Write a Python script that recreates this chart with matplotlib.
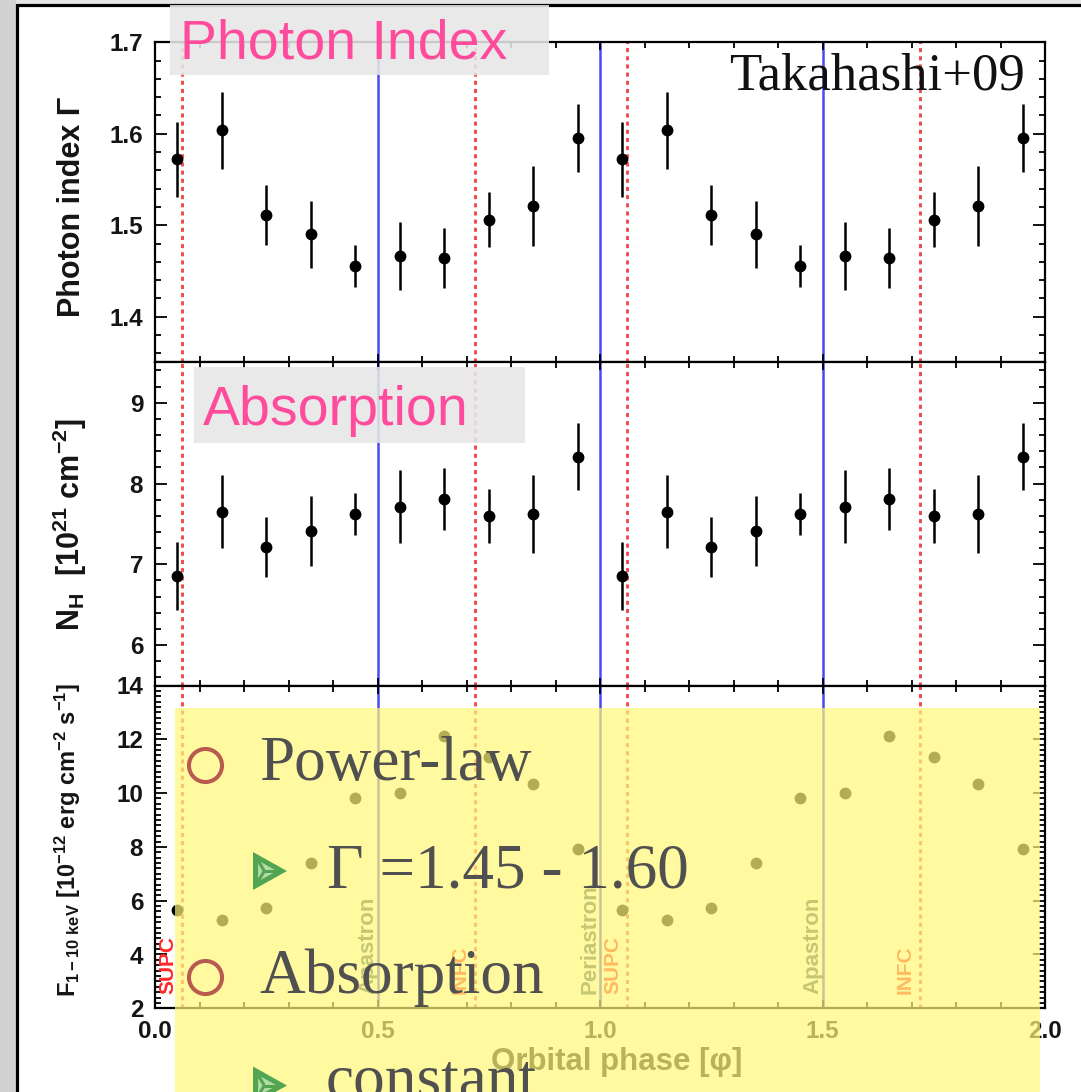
import matplotlib
matplotlib.use("Agg")
import matplotlib.pyplot as plt
from matplotlib.patches import Rectangle, Polygon
from matplotlib.ticker import MultipleLocator, FormatStrFormatter
from matplotlib.transforms import offset_copy

plt.rcParams["mathtext.fontset"] = "custom"
plt.rcParams["mathtext.rm"] = "Liberation Sans:bold"
plt.rcParams["mathtext.bf"] = "Liberation Sans:bold"
plt.rcParams["mathtext.it"] = "Liberation Sans:bold"
plt.rcParams["mathtext.default"] = "bf"

W, H, DPI = 1081, 1092, 100

# ---------------- data ----------------
phase = [0.05, 0.15, 0.25, 0.35, 0.45, 0.55, 0.65, 0.75, 0.85, 0.95,
         1.05, 1.15, 1.25, 1.35, 1.45, 1.55, 1.65, 1.75, 1.85, 1.95]
photon_index = [1.572, 1.604, 1.511, 1.490, 1.455, 1.466, 1.464, 1.506, 1.521, 1.595,
                1.572, 1.604, 1.511, 1.490, 1.455, 1.466, 1.464, 1.506, 1.521, 1.595]
photon_index_err = [0.041, 0.042, 0.033, 0.037, 0.023, 0.037, 0.033, 0.030, 0.044, 0.037,
                    0.041, 0.042, 0.033, 0.037, 0.023, 0.037, 0.033, 0.030, 0.044, 0.037]
nh = [6.855, 7.653, 7.218, 7.413, 7.624, 7.715, 7.810, 7.600, 7.624, 8.335,
      6.855, 7.653, 7.218, 7.413, 7.624, 7.715, 7.810, 7.600, 7.624, 8.335]
nh_err = [0.42, 0.455, 0.37, 0.43, 0.26, 0.45, 0.38, 0.33, 0.48, 0.41,
          0.42, 0.455, 0.37, 0.43, 0.26, 0.45, 0.38, 0.33, 0.48, 0.41]
flux = [5.67, 5.27, 5.73, 7.41, 9.80, 10.02, 12.13, 11.33, 10.33, 7.91,
        5.67, 5.27, 5.73, 7.41, 9.80, 10.02, 12.13, 11.33, 10.33, 7.91]

blue_lines = [0.5, 1.0, 1.5]
red_lines = [0.061, 0.718, 1.061, 1.718]
event_names = ["SUPC", "Apastron", "INFC", "Periastron", "SUPC", "Apastron", "INFC"]
event_phase = [0.061, 0.5, 0.718, 1.0, 1.061, 1.5, 1.718]

x_ticklabels = ["0.0", "0.5", "1.0", "1.5", "2.0"]

PINK = "#FF4B9B"
TXT = "#505050"
BLUE = "#4B4BF2"
RED = "#F24A4A"
IDL_FONT = "Liberation Sans"

fig = plt.figure(figsize=(W / DPI, H / DPI), dpi=DPI)
fig.patch.set_facecolor("#E6E6E6")

# ---------------- background frame ----------------
bg = fig.add_axes([0, 0, 1, 1], zorder=-10)
bg.set_xlim(0, W); bg.set_ylim(H, 0); bg.axis("off")
bg.add_patch(Rectangle((0, 0), 16, H, facecolor="#D2D2D2", edgecolor="none"))
bg.add_patch(Rectangle((17, 5), W + 20, H + 20, facecolor="white",
                       edgecolor="black", linewidth=2.3))


def add_ax(top, bottom):
    return fig.add_axes([155 / W, 1 - bottom / H, 890 / W, (bottom - top) / H])


ax1 = add_ax(42.3, 362.4)
ax2 = add_ax(362.4, 685.5)
ax3 = add_ax(685.5, 1008.3)
axes = [ax1, ax2, ax3]

for ax in axes:
    ax.set_xlim(0, 2)
    for s in ax.spines.values():
        s.set_linewidth(1.6)
    ax.xaxis.set_major_locator(MultipleLocator(0.5))
    ax.xaxis.set_minor_locator(MultipleLocator(0.1))
    ax.tick_params(which="both", direction="in", top=True, right=True,
                   width=1.3, labelsize=17.5, pad=8.5)
    ax.tick_params(which="major", length=8.5)
    ax.tick_params(which="minor", length=4.5)
    ax.tick_params(axis="x", which="major", length=6)
    for bl in blue_lines:
        ax.axvline(bl, color=BLUE, lw=1.8, zorder=1)
    for rl in red_lines:
        ax.axvline(rl, color=RED, lw=2.1, linestyle=(0, (1.4, 1.4)), zorder=1)

for ax in (ax1, ax2):
    ax.tick_params(axis="x", labelbottom=False)

ax1.errorbar(phase, photon_index, yerr=photon_index_err, fmt="o", color="black",
             ms=7.5, elinewidth=1.8, capsize=0, zorder=3)
ax1.set_ylim(1.35, 1.70)
ax1.yaxis.set_major_locator(MultipleLocator(0.1))
ax1.yaxis.set_minor_locator(MultipleLocator(0.02))
ax1.yaxis.set_major_formatter(FormatStrFormatter("%.1f"))

ax2.errorbar(phase, nh, yerr=nh_err, fmt="o", color="black",
             ms=7.5, elinewidth=1.8, capsize=0, zorder=3)
ax2.set_ylim(5.5, 9.5)
ax2.yaxis.set_major_locator(MultipleLocator(1))
ax2.yaxis.set_minor_locator(MultipleLocator(0.2))
ax2.yaxis.set_major_formatter(FormatStrFormatter("%d"))

ax3.plot(phase, flux, "o", color="black", ms=7.5, zorder=3)
ax3.set_ylim(2, 14)
ax3.yaxis.set_major_locator(MultipleLocator(2))
ax3.yaxis.set_minor_locator(MultipleLocator(0.2))
ax3.yaxis.set_major_formatter(FormatStrFormatter("%d"))
ax3.set_xticks([0, 0.5, 1.0, 1.5, 2.0])
ax3.set_xticklabels(x_ticklabels)

for ax in axes:
    for lab in ax.get_xticklabels() + ax.get_yticklabels():
        lab.set_family(IDL_FONT)
        lab.set_fontweight("bold")
        lab.set_color("#151515")

for name, ph in zip(event_names, event_phase):
    if name in ("SUPC", "INFC"):
        tr = offset_copy(ax3.transData, fig=fig, x=-14, y=0, units="dots")
        ax3.text(ph, 2.55, name, rotation=90, ha="center", va="bottom",
                 color="#FF2828", fontsize=15, fontweight="bold",
                 family=IDL_FONT, transform=tr)
    else:
        tr = offset_copy(ax3.transData, fig=fig, x=-10, y=0, units="dots")
        ax3.text(ph, 2.55, name, rotation=90, ha="center", va="bottom",
                 color="#3D5670", fontsize=16, fontweight="bold",
                 family=IDL_FONT, transform=tr)

# axis labels
lab_kw = dict(family=IDL_FONT, fontweight="bold", color="#151515")
fig.text(72.5 / W, 1 - 207 / H, "Photon index Γ", rotation=90, ha="center",
         va="center", fontsize=22, **lab_kw)
fig.text(70 / W, 1 - 525 / H, r"N$_\mathrm{H}$  [10$^{21}$ cm$^{-2}$]", rotation=90,
         ha="center", va="center", fontsize=22, **lab_kw)
fig.text(68 / W, 1 - 840 / H,
         r"F$_{\mathrm{1-10\ keV}}$ [10$^{-12}$ erg cm$^{-2}$ s$^{-1}$]",
         rotation=90, ha="center", va="center", fontsize=17, **lab_kw)
fig.text(617 / W, 1 - 1062 / H, "Orbital phase [φ]", ha="center", va="center",
         fontsize=22.5, **lab_kw)

# ---------------- slide overlay ----------------
ov = fig.add_axes([0, 0, 1, 1], zorder=20)
ov.set_xlim(0, W); ov.set_ylim(H, 0); ov.axis("off")

ov.add_patch(Rectangle((170, 5), 379, 70, facecolor="#E6E6E6", alpha=0.88,
                       edgecolor="none"))
ov.text(180, 58.3, "Photon Index", fontsize=40, family="Liberation Sans",
        color=PINK, ha="left", va="baseline")
ov.add_patch(Rectangle((194, 367), 331, 76, facecolor="#E6E6E6", alpha=0.88,
                       edgecolor="none"))
ov.text(202.5, 425, "Absorption", fontsize=40, family="Liberation Sans",
        color=PINK, ha="left", va="baseline")

ov.text(1025, 90, "Takahashi+09", fontsize=38, family="Liberation Serif",
        color="#111111", ha="right", va="baseline")

ov.add_patch(Rectangle((175, 708), 865, 400, facecolor=(1.0, 247 / 255, 120 / 255),
                       alpha=0.70, edgecolor="none"))


def bullet_circle(cx, cy):
    ov.plot([cx], [cy], marker="o", ms=23.8, mfc="none", mec="#B85A50", mew=2.9)


def arrow(x0, ytop):
    x1, yb = x0 + 34, ytop + 38
    ym = (ytop + yb) / 2
    pts = [(x0, ytop), (x0, yb), (x1, ym)]
    ov.add_patch(Polygon(pts, closed=True, facecolor="#52A552", edgecolor="none"))
    cx = (x0 + x0 + x1) / 3
    cy = ym
    k = 0.55
    inner = [(cx + k * (px - cx), cy + k * (py - cy)) for px, py in pts]
    ov.add_patch(Polygon(inner, closed=True, facecolor="#B4DCA8", edgecolor="none"))
    for px, py in inner:
        ov.plot([cx, px], [cy, py], color="#52A552", lw=2.2, solid_capstyle="butt")


bullet_circle(205, 764.5)
ov.text(259, 780, "Power-law", fontsize=45.5, family="Liberation Serif", color=TXT,
        ha="left", va="baseline")
arrow(253, 852)
ov.text(327, 887, "Γ =1.45 - 1.60", fontsize=45.5, family="Liberation Serif",
        color=TXT, ha="left", va="baseline")
bullet_circle(205, 977)
ov.text(259, 993, "Absorption", fontsize=45.5, family="Liberation Serif", color=TXT,
        ha="left", va="baseline")
arrow(253, 1066.5)
ov.text(326, 1097, "constant", fontsize=45.5, family="Liberation Serif", color=TXT,
        ha="left", va="baseline")

fig.savefig("out.png", dpi=DPI)
